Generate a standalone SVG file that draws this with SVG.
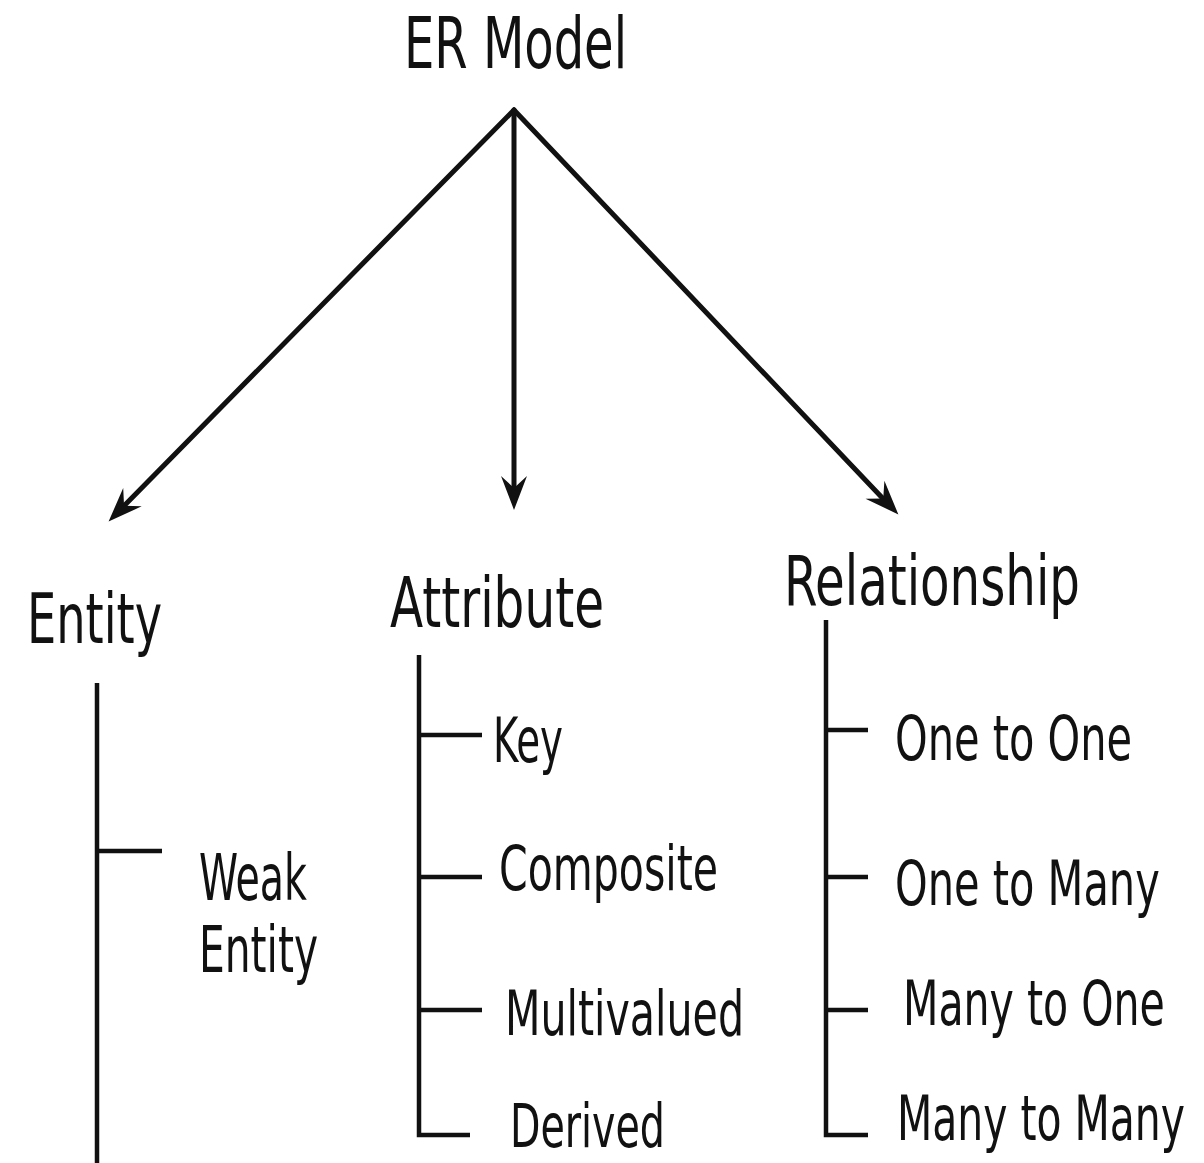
<svg xmlns="http://www.w3.org/2000/svg" xmlns:xlink="http://www.w3.org/1999/xlink" width="1204" height="1163" viewBox="0 0 1204 1163">
<defs>
<style>
.t{font-family:"DejaVu Sans Condensed","Liberation Sans Narrow","Liberation Sans",sans-serif;fill:#111;}
.arr{stroke:#111;stroke-width:5;fill:none;stroke-linecap:round;}
.ln{stroke:#111;stroke-width:4.5;fill:none;}
.hd{fill:#111;}
</style>
<path id="head" class="hd" d="M-32,-13 L2,0 L-32,13 L-20,0 Z"/>
</defs>
<rect width="1204" height="1163" fill="#fff"/>
<g id="connectors">
<line class="arr" x1="514" y1="110" x2="118" y2="512"/>
<line class="arr" x1="514" y1="110" x2="514" y2="498"/>
<line class="arr" x1="514" y1="110" x2="890" y2="506"/>
<use href="#head" xlink:href="#head" transform="translate(110,520) rotate(134.6)"/>
<use href="#head" xlink:href="#head" transform="translate(514,508) rotate(90)"/>
<use href="#head" xlink:href="#head" transform="translate(897,513) rotate(46.5)"/>
<path class="ln" d="M97,683 V1163 M97,851 H162"/>
<path class="ln" d="M419,655 V1135 H470 M419,735 H482 M419,877 H482 M419,1010 H482"/>
<path class="ln" d="M826,620 V1135 H868 M826,730 H868 M826,877 H868 M826,1010 H868"/>
</g>
<g id="er-model"><text class="t" x="404" y="68" font-size="72" textLength="223" lengthAdjust="spacingAndGlyphs">ER Model</text></g>
<g id="entity"><text class="t" x="27" y="643" font-size="70" textLength="135" lengthAdjust="spacingAndGlyphs">Entity</text></g>
<g id="attribute"><text class="t" x="390" y="627" font-size="70" textLength="214" lengthAdjust="spacingAndGlyphs">Attribute</text></g>
<g id="relationship"><text class="t" x="784" y="605" font-size="70" textLength="296" lengthAdjust="spacingAndGlyphs">Relationship</text></g>
<g id="weak-entity"><text class="t" font-size="64"><tspan x="199" y="900" textLength="108" lengthAdjust="spacingAndGlyphs">Weak</tspan><tspan x="199" y="972" textLength="119" lengthAdjust="spacingAndGlyphs">Entity</tspan></text></g>
<g id="key"><text class="t" x="493" y="762" font-size="63" textLength="70" lengthAdjust="spacingAndGlyphs">Key</text></g>
<g id="composite"><text class="t" x="499" y="890" font-size="63" textLength="219" lengthAdjust="spacingAndGlyphs">Composite</text></g>
<g id="multivalued"><text class="t" x="505" y="1035" font-size="63" textLength="239" lengthAdjust="spacingAndGlyphs">Multivalued</text></g>
<g id="derived"><text class="t" x="510" y="1147" font-size="60" textLength="155" lengthAdjust="spacingAndGlyphs">Derived</text></g>
<g id="one-to-one"><text class="t" transform="translate(895,760) scale(0.75,1)" x="0" y="0" font-size="62" textLength="316" lengthAdjust="spacingAndGlyphs">One to One</text></g>
<g id="one-to-many"><text class="t" transform="translate(895,905) scale(0.75,1)" x="0" y="0" font-size="62" textLength="353" lengthAdjust="spacingAndGlyphs">One to Many</text></g>
<g id="many-to-one"><text class="t" transform="translate(903,1025) scale(0.75,1)" x="0" y="0" font-size="62" textLength="349" lengthAdjust="spacingAndGlyphs">Many to One</text></g>
<g id="many-to-many"><text class="t" transform="translate(897,1140) scale(0.75,1)" x="0" y="0" font-size="62" textLength="384" lengthAdjust="spacingAndGlyphs">Many to Many</text></g>
</svg>
